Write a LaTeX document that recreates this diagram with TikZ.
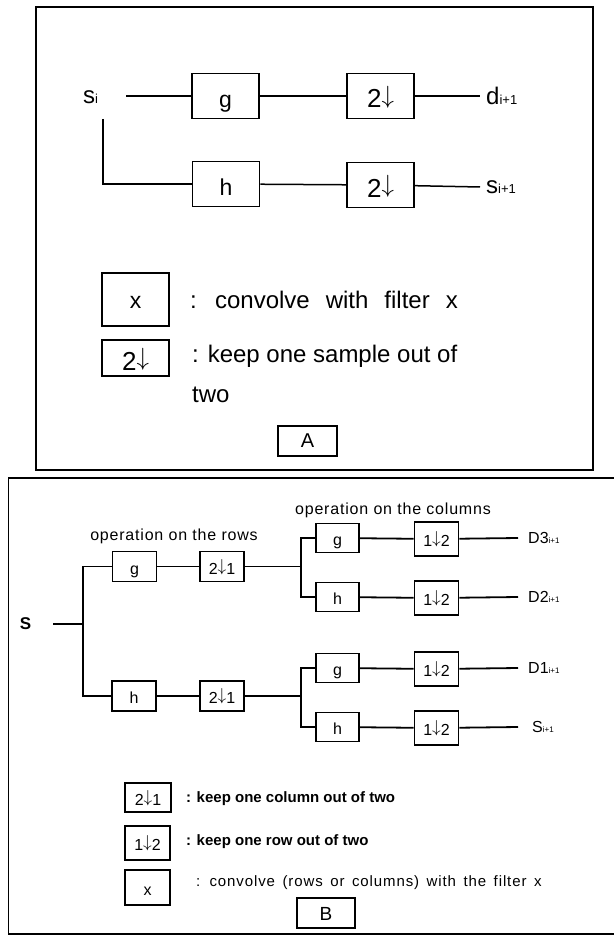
\documentclass[tikz,border=0pt]{standalone}
\usepackage{fontspec}
\setmainfont{Liberation Sans}
\usetikzlibrary{positioning}
\newcommand{\idx}[1]{{\fontsize{13}{13}\selectfont #1}}
\newcommand{\idxs}[1]{{\fontsize{8}{8}\selectfont #1}}
\newcommand{\dn}{\raisebox{0.16em}{$\downarrow$}}

\begin{document}
\begin{tikzpicture}[x=1pt, y=-1pt,
    frame/.style={line width=1.6pt},
    wire/.style={line width=1.5pt},
    wireB/.style={line width=1.8pt},
    abox/.style={draw, line width=1.6pt, inner sep=0pt, minimum width=67pt, minimum height=45pt, text height=25pt, text depth=1pt, font=\fontsize{23}{23}\selectfont},
    bbox/.style={draw, line width=1.8pt, inner sep=0pt, minimum width=44pt, minimum height=30pt, text height=16pt, text depth=1pt, font=\fontsize{16}{16}\selectfont},
    lbl/.style={inner sep=0pt, font=\fontsize{24}{24}\selectfont},
    lblB/.style={inner sep=0pt, font=\fontsize{16}{16}\selectfont}]
    \useasboundingbox (0,0) rectangle (613,936);

    % Panel A frame
    \draw[frame] (36,7) rectangle (593,470);

    % Input and tap points
    \node[lbl, anchor=west] (si) at (83,97) {s\idx{i}};
    \coordinate (siOut) at (126,96);
    \coordinate (siTap) at (103,119);

    % Filter and decimation, high pass
    \node[abox] (gA) at (225.5,96) {g};
    \node[abox, font=\fontsize{26}{26}\selectfont] (dnA1) at (380.5,96) {2\dn};
    \node[lbl, anchor=west, inner xsep=6pt] (dA) at (480,96) {d\idx{i+1}};
    \draw[wire] (siOut) -- (gA) -- (dnA1) -- (dA.west);

    % Filter and decimation, low pass
    \node[abox] (hA) at (226,184) {h};
    \node[abox, font=\fontsize{26}{26}\selectfont] (dnA2) at (380.5,185) {2\dn};
    \node[lbl, anchor=west, inner xsep=6pt] (sA) at (480,187) {s\idx{i+1}};
    \draw[wire] (siTap) |- (hA);
    \draw[wire] (hA) -- (dnA2) -- (sA.west);

    % Legend A
    \node[abox, minimum height=53pt, text height=19pt] (keyX) at (135.5,299.5) {x};
    \node[lbl, anchor=west] (keyXtxt) at (190,300) {\spaceskip=16pt : convolve with filter x};
    \node[abox, minimum height=36pt, font=\fontsize{26}{26}\selectfont] (keyDn) at (135.5,358) {2\dn};
    \node[lbl, anchor=north west, align=left, font=\fontsize{24}{40}\selectfont] (keyDntxt) at (192,345) {: keep one sample out of\\two};
    \node[draw, line width=1.6pt, minimum width=59pt, minimum height=30pt, inner sep=0pt, font=\fontsize{20}{20}\selectfont] (tagA) at (307.5,441) {A};

    % Panel B frame
    \draw[frame] (8.5,478) rectangle (625,934);

    % Input and trunk
    \node[lblB, font=\fontsize{17}{17}\selectfont\bfseries] (sB) at (25.5,624) {S};
    \coordinate (sOut) at (53,624);
    \coordinate (trunk) at (83,624);
    \coordinate (tTop) at (83,566.5);
    \coordinate (tBot) at (83,696);
    \draw[wireB] (sOut) -- (trunk);

    % Operation on the rows
    \node[lblB, font=\fontsize{16}{16}\selectfont\addfontfeature{LetterSpace=5}] (opRows) at (174,536) {operation on the rows};
    \node[bbox] (gR) at (134.5,566.5) {g};
    \node[bbox] (dnR1) at (222,566.5) {2\dn1};
    \node[bbox] (hR) at (134,696) {h};
    \node[bbox] (dnR2) at (222,696) {2\dn1};
    \draw[wireB] (gR) -- (tTop) -- (tBot) -- (hR);
    \draw[wireB] (gR) -- (dnR1);
    \draw[wireB] (hR) -- (dnR2);

    % Operation on the columns
    \node[lblB, font=\fontsize{16}{16}\selectfont\addfontfeature{LetterSpace=5}] (opCols) at (393,510) {operation on the columns};
    \coordinate (br1) at (301,566.5);
    \coordinate (br1t) at (301,538);
    \coordinate (br1b) at (301,597);
    \coordinate (br2) at (301,696);
    \coordinate (br2t) at (301,668);
    \coordinate (br2b) at (301,727);
    \draw[wireB] (dnR1) -- (br1);
    \draw[wireB] (dnR2) -- (br2);

    \node[bbox, minimum width=43pt, minimum height=29pt] (gC1) at (337.5,538) {g};
    \node[bbox, minimum height=34pt] (dnC1) at (436.5,539) {1\dn2};
    \node[lblB, anchor=west, inner xsep=10pt] (dD3) at (518,538) {D3\idxs{i+1}};
    \node[bbox, minimum width=43pt, minimum height=29pt] (hC1) at (337.5,597) {h};
    \node[bbox, minimum height=34pt] (dnC2) at (436.5,598) {1\dn2};
    \node[lblB, anchor=west, inner xsep=10pt] (dD2) at (518,597) {D2\idxs{i+1}};
    \draw[wireB] (gC1) -- (br1t) -- (br1b) -- (hC1);
    \draw[wireB] (gC1) -- (dnC1) -- (dD3.west);
    \draw[wireB] (hC1) -- (dnC2) -- (dD2.west);

    \node[bbox, minimum width=43pt, minimum height=29pt] (gC2) at (337.5,668) {g};
    \node[bbox, minimum height=34pt] (dnC3) at (436.5,669) {1\dn2};
    \node[lblB, anchor=west, inner xsep=10pt] (dD1) at (518,668) {D1\idxs{i+1}};
    \node[bbox, minimum width=43pt, minimum height=29pt] (hC2) at (337.5,727) {h};
    \node[bbox, minimum height=34pt] (dnC4) at (436.5,728) {1\dn2};
    \node[lblB, anchor=west, inner xsep=14pt] (sB1) at (518,727) {S\idxs{i+1}};
    \draw[wireB] (gC2) -- (br2t) -- (br2b) -- (hC2);
    \draw[wireB] (gC2) -- (dnC3) -- (dD1.west);
    \draw[wireB] (hC2) -- (dnC4) -- (sB1.west);

    % Legend B
    \node[bbox, minimum width=46pt, minimum height=29pt] (keyCol) at (148,797.5) {2\dn1};
    \node[lblB, anchor=west, font=\fontsize{15}{15}\selectfont\bfseries] (keyColtxt) at (186,799) {: keep one column out of two};
    \node[bbox, minimum width=45pt, minimum height=34pt] (keyRow) at (147.5,843) {1\dn2};
    \node[lblB, anchor=west, font=\fontsize{15}{15}\selectfont\bfseries] (keyRowtxt) at (186,842) {: keep one row out of two};
    \node[bbox, minimum width=45pt, minimum height=35pt] (keyF) at (147.5,887.5) {x};
    \node[lblB, anchor=west, font=\fontsize{15}{15}\selectfont\addfontfeature{LetterSpace=6}] (keyFtxt) at (196,883) {\spaceskip=7.5pt : convolve (rows or columns) with the filter x};
    \node[bbox, minimum width=58pt, minimum height=30pt, font=\fontsize{19}{19}\selectfont] (tagB) at (326,913) {B};
\end{tikzpicture}
\end{document}
